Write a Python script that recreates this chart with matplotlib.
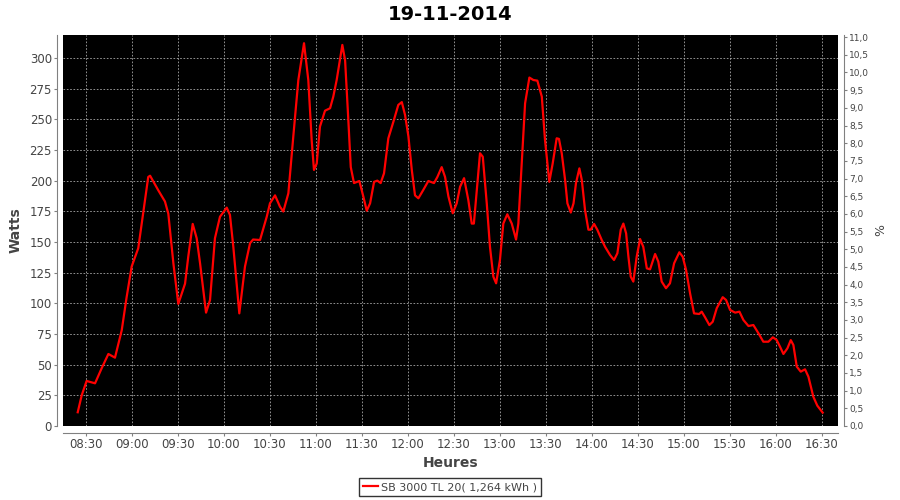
import matplotlib
matplotlib.use('Agg')
import matplotlib.pyplot as plt
from matplotlib.ticker import FuncFormatter, MultipleLocator

title = '19-11-2014'
series_name = 'SB 3000 TL 20( 1,264 kWh )'
start_label = 8 * 60 + 30   # minutes are counted from 08:30

# minutes after 08:30
minutes = [-5.4, -2.8, 0.4, 5.9, 10.2, 14.6, 18.9, 23.3, 26.5, 29.8, 34.1, 37, 40.6, 41.8,
           47.2, 51.5, 53.7, 57, 60.2, 64.6, 66.7, 69.6, 72.2, 74.4, 78.3, 80.9, 84.1, 87.4,
           91.8, 93.9, 96.1, 100, 103.7, 107, 109, 113.5, 117.9, 120, 123.3, 126.5, 128.7, 132,
           135.2, 138.5, 142.2, 145, 147.2, 148.7, 150.5, 152.6, 155.9, 159.2, 161.3, 163.5,
           167.2, 169, 171, 172.7, 174.8, 178.3, 180.9, 183.1, 185.3, 187.9, 190, 192.2, 194.4,
           197.2, 200.5, 203.7, 206, 208.1, 210.3, 212.5, 214.6, 216.8, 220, 223.3, 227, 229.2,
           232, 234.2, 236.4, 239.2, 241.8, 244, 246.6, 249.4, 251.6, 253, 254.9, 257, 258.8,
           261.4, 263.5, 265.7, 267.5, 270, 272.2, 274.8, 277.7, 280.5, 282, 284.2, 286.4,
           289.2, 291.8, 294.4, 297.3, 299.4, 302.2, 304.4, 307, 308.5, 310.3, 312.5, 314,
           316.2, 318, 319.6, 321.8, 323.4, 325.5, 327.7, 329.2, 331.4, 333.5, 336.4, 338.6,
           341.8, 344.4, 346.6, 348.8, 350.5, 352.3, 353.8, 355.3, 357, 359.2, 361.4, 363.5,
           365.8, 367.9, 371.2, 373.3, 375.5, 378.3, 380.9, 383.6, 387, 389.2, 391.4, 394,
           396.6, 400, 401.6, 403.8, 406.6, 408.8, 411.4, 415.3, 417.5, 420.1, 423.4, 426.2,
           428.8, 432.1, 435.3, 438.6, 441.8, 445.1, 448, 450.5, 452.7, 454.9, 457.5, 459.7,
           461.4, 463.6, 466.2, 469, 471.2, 474.4, 477, 480.5]

watts = [11.2, 25, 36.7, 34.8, 47, 58.7, 55.7, 78, 105, 130, 145, 170.6, 203, 204,
         192, 183, 173, 132.6, 99.5, 116, 138, 164.7, 153, 132.6, 92.4, 102.7, 153, 170.6,
         178, 172, 146, 91.8, 130, 149, 152, 151.6, 170.6, 181.5, 188, 178.8, 174.8, 189.7,
         235.8, 282, 312, 282, 233, 208.7, 214, 244, 257, 259, 268.5, 282,
         310.6, 298, 252, 211, 198, 199.7, 187, 175.5, 181.5, 199, 200, 198, 206,
         234.5, 248, 261.7, 264, 253.5, 236, 208.7, 188, 185.6, 192.4, 199.7, 198, 203,
         211, 203, 187, 173.4, 181.5, 195, 202, 184, 165, 165, 192.4, 222.3, 219.5,
         181.5, 146, 121.7, 116.3, 135.3, 165, 172.6, 165, 152, 165, 214, 263,
         284, 282, 281.5, 268.5, 233, 199, 214, 234.5, 234, 222.3, 200.5, 181.5,
         174, 181.5, 198, 210, 200.5, 176, 160, 160, 164.7, 160, 151.6, 146,
         139.4, 135.3, 140.8, 160, 165, 157, 138, 121.7, 117.7, 138, 152.4, 146,
         128.5, 127.7, 140.2, 134, 117.7, 112.3, 116.3, 132.6, 141.6, 138, 127.2, 108.2,
         91.8, 91.3, 93.2, 88.6, 82.3, 85, 96, 105, 102.7, 94.6, 92.4, 93.2,
         86.4, 81.5, 82.3, 75.6, 68.7, 68.7, 72.3, 70.1, 64.6, 58.7, 63.3, 70,
         66, 48.4, 44.3, 46.2, 40.2, 23.9, 16.6, 10.9]


def hhmm(v, pos=None):
    m = int(round(v + start_label))
    return '%02d:%02d' % (m // 60, m % 60)


def pct(v, pos=None):
    return ('%.1f' % v).replace('.', ',')


grey = '#808080'
txt = '#444444'

fig = plt.figure(figsize=(9, 5), dpi=100)
ax = fig.add_axes([63 / 900, 74 / 500, 775 / 900, 391 / 500])
ax.set_facecolor('black')

ax.plot(minutes, watts, color='#ff0000', lw=1.6, label=series_name)

ax.set_xlim(-15, 490.5)
ax.set_ylim(0, 318.7)
ax.xaxis.set_major_locator(MultipleLocator(30))
ax.xaxis.set_major_formatter(FuncFormatter(hhmm))
ax.yaxis.set_major_locator(MultipleLocator(25))
ax.grid(True, color='#a8a8a8', lw=0.6, linestyle=(0, (2, 2)))

for s in ['top', 'right']:
    ax.spines[s].set_visible(False)
ax.spines['left'].set_position(('outward', 4))
ax.spines['bottom'].set_position(('outward', 5))
ax.spines['left'].set_color(grey)
ax.spines['bottom'].set_color(grey)
ax.tick_params(colors=grey, labelcolor=txt, labelsize=8.5, length=2, pad=2, direction='out')

ax.set_ylabel('Watts', fontsize=10, fontweight='bold', color=txt, labelpad=5)
ax.set_xlabel('Heures', fontsize=10, fontweight='bold', color=txt, labelpad=3)

ax2 = ax.twinx()
ax2.set_ylim(0, 11.06)
ax2.yaxis.set_major_locator(MultipleLocator(0.5))
ax2.yaxis.set_major_formatter(FuncFormatter(pct))
for s in ['top', 'left', 'bottom']:
    ax2.spines[s].set_visible(False)
ax2.spines['right'].set_position(('outward', 4))
ax2.spines['right'].set_color(grey)
ax2.tick_params(colors=grey, labelcolor=txt, labelsize=6.5, length=2, direction='out', pad=2)
ax2.set_ylabel('%', fontsize=9, color=txt, labelpad=4)

fig.text(0.5, 0.97, title, ha='center', va='center', fontsize=14, fontweight='bold')

fig.legend(loc='center', bbox_to_anchor=(0.5, 0.026), fontsize=8, frameon=True,
           fancybox=False, edgecolor='black', handlelength=1.3, handletextpad=0.3,
           borderpad=0.35, labelcolor=txt)

fig.savefig('out.png', dpi=100)
